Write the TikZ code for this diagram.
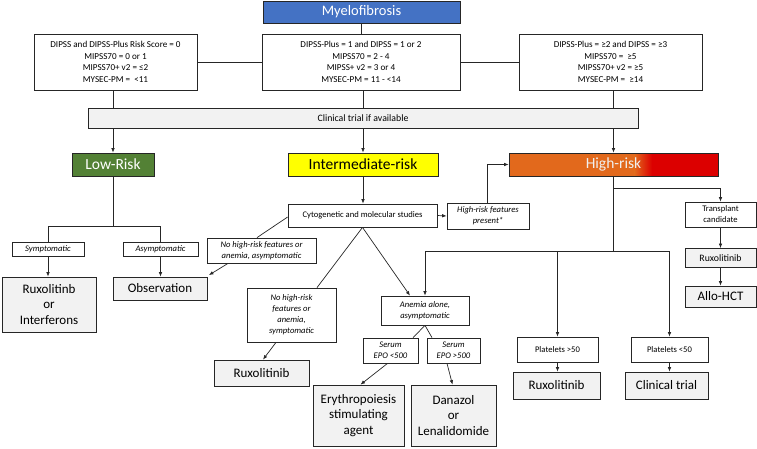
\documentclass[tikz,border=0pt]{standalone}
\usepackage{fontspec}
\setmainfont{Carlito}
\usetikzlibrary{arrows.meta,calc}
\definecolor{mfblue}{HTML}{4472C4}
\definecolor{lowgreen}{HTML}{538135}
\definecolor{midyellow}{HTML}{FFFF00}
\definecolor{hiorange}{HTML}{E2691C}
\definecolor{hired}{HTML}{DC0000}
\definecolor{boxgray}{HTML}{F2F2F2}
\definecolor{edge}{HTML}{262626}
\begin{document}
\begin{tikzpicture}[x=1pt,y=-1pt,
  box/.style={draw=edge, line width=0.8pt, inner sep=0pt, align=center},
  crit/.style={box, fill=white, font=\fontsize{9.1}{11.6}\selectfont},
  lab/.style={box, fill=white, font=\fontsize{8.6}{11}\selectfont},
  ilab/.style={box, fill=white, font=\fontsize{8.6}{11}\selectfont\itshape},
  res/.style={box, fill=boxgray, font=\fontsize{13}{15.5}\selectfont},
  sres/.style={box, fill=boxgray, font=\fontsize{9.8}{12}\selectfont},
  risk/.style={box, font=\fontsize{15.5}{18}\selectfont},
  ln/.style={draw=edge, line width=0.7pt},
  arr/.style={ln, -{Latex[length=4.5pt,width=3.6pt]}}]
\useasboundingbox (0,0) rectangle (757,448);
% title
\node[box, fill=mfblue, text=white, font=\fontsize{14.5}{17}\selectfont, minimum width=197pt, minimum height=22pt] (MF) at (361.5,12) {Myelofibrosis};
% criteria boxes
\node[crit, minimum width=163pt, minimum height=56pt] (L1) at (115.5,62) {DIPSS and DIPSS-Plus Risk Score = 0\\MIPSS70 = 0 or 1\\MIPSS70+ v2 = ≤2\\MYSEC-PM = \ <11};
\node[crit, minimum width=198pt, minimum height=56pt] (M1) at (361,62) {DIPSS-Plus = 1 and DIPSS = 1 or 2\\MIPSS70 = 2 - 4\\MIPSS+ v2 = 3 or 4\\MYSEC-PM = 11 - <14};
\node[crit, minimum width=183pt, minimum height=56pt] (R1) at (610.5,62) {DIPSS-Plus = ≥2 and DIPSS = ≥3\\MIPSS70 = \ ≥5\\MIPSS70+ v2 = ≥5\\MYSEC-PM = \ ≥14};
% clinical trial bar
\node[box, fill=boxgray, font=\fontsize{9.8}{12}\selectfont, minimum width=550pt, minimum height=20pt] (CT) at (363,118) {Clinical trial if available};
% risk boxes
\node[risk, fill=lowgreen, text=white, minimum width=82pt, minimum height=23pt] (LOW) at (113,164.5) {Low-Risk};
\node[risk, fill=midyellow, text=black, minimum width=150pt, minimum height=23pt] (MID) at (363,164.5) {Intermediate-risk};
\fill[hiorange] (509,153) rectangle (635,176);
\shade[left color=hiorange, right color=hired] (634.5,153) rectangle (652,176);
\fill[hired] (651.5,153) rectangle (718,176);
\node[risk, text=white!94!black, minimum width=209pt, minimum height=23pt] (HIGH) at (613.5,164.5) {High-risk};
% low-risk branch
\node[ilab, minimum width=72pt, minimum height=14pt] (SYM) at (48,249) {Symptomatic};
\node[ilab, minimum width=75pt, minimum height=14pt] (ASYM) at (160.5,249) {Asymptomatic};
\node[res, minimum width=94pt, minimum height=55pt] (RUXINT) at (49,304.5) {Ruxolitinb\\or\\Interferons};
\node[res, minimum width=94pt, minimum height=23pt] (OBS) at (160,288.5) {Observation};
% intermediate branch
\node[lab, minimum width=149pt, minimum height=23pt] (CYTO) at (362.5,215.5) {Cytogenetic and molecular studies};
\node[ilab, minimum width=82pt, minimum height=26pt] (HRF) at (488,216) {High-risk features\\present*};
\node[ilab, minimum width=109pt, minimum height=25pt] (NOA) at (261.5,250.5) {No high-risk features or\\anemia, asymptomatic};
\node[ilab, minimum width=89pt, minimum height=54pt] (NOS) at (291.5,315) {No high-risk\\features or\\anemia,\\symptomatic};
\node[ilab, minimum width=88pt, minimum height=29pt] (ANE) at (425,310.5) {Anemia alone,\\asymptomatic};
\node[ilab, minimum width=55pt, minimum height=25pt] (EPOL) at (390.5,350.5) {Serum\\EPO <500};
\node[ilab, minimum width=53pt, minimum height=25pt] (EPOH) at (453.5,350.5) {Serum\\EPO >500};
\node[res, minimum width=95pt, minimum height=26pt] (RUXM) at (261.5,373) {Ruxolitinib};
\node[res, minimum width=91pt, minimum height=61pt] (ERY) at (358.5,415.5) {Erythropoiesis\\stimulating\\agent};
\node[res, minimum width=85pt, minimum height=61pt] (DAN) at (453.5,415.5) {Danazol\\or\\Lenalidomide};
% high-risk branch
\node[lab, minimum width=81pt, minimum height=25pt] (P1) at (557.5,349.5) {Platelets >50};
\node[lab, minimum width=77pt, minimum height=25pt] (P2) at (669.5,349.5) {Platelets <50};
\node[res, minimum width=87pt, minimum height=27pt] (RUXB) at (556.5,385.5) {Ruxolitinib};
\node[res, minimum width=83pt, minimum height=27pt] (CTB) at (666.5,385.5) {Clinical trial};
\node[lab, minimum width=71pt, minimum height=25pt] (TC) at (720.5,214.5) {Transplant\\candidate};
\node[sres, minimum width=71pt, minimum height=19pt] (RUXR) at (720.5,258) {Ruxolitinib};
\node[res, minimum width=71pt, minimum height=21pt] (ALLO) at (720.5,296.5) {Allo-HCT};
% connectors: top
\draw[ln] (MF.south) -- (M1.north -| MF.south);
\draw[ln] (L1.east) -- (M1.west);
\draw[ln] (M1.east) -- (R1.west);
\draw[ln] (L1.south -| LOW.north) -- (CT.north -| LOW.north);
\draw[ln] (M1.south -| MID.north) -- (CT.north -| MID.north);
\draw[ln] (R1.south -| HIGH.north) -- (CT.north -| HIGH.north);
\draw[arr] (CT.south -| LOW.north) -- (LOW.north);
\draw[arr] (CT.south -| MID.north) -- (MID.north);
\draw[arr] (CT.south -| HIGH.north) -- (HIGH.north);
% low-risk
\coordinate (lowj) at ($(LOW.south)+(0,50)$);
\draw[ln] (LOW.south) -- (lowj);
\draw[ln] (SYM.north |- lowj) -- (ASYM.north |- lowj);
\draw[ln] (SYM.north |- lowj) -- (SYM.north);
\draw[ln] (ASYM.north |- lowj) -- (ASYM.north);
\draw[arr] (SYM.south) -- (SYM.south |- RUXINT.north);
\draw[arr] (ASYM.south) -- (ASYM.south |- OBS.north);
% intermediate
\draw[arr] (MID.south) -- (MID.south |- CYTO.north);
\draw[arr] (CYTO.east) -- (HRF.west);
\draw[arr] ([xshift=-1pt]HRF.north) |- (HIGH.west);
\draw[ln] ([yshift=-1.5pt]CYTO.west) -- ([xshift=-4.5pt]NOA.north);
\draw[arr] ([xshift=-33.5pt]NOA.south) -- ([xshift=1.5pt,yshift=1.5pt]OBS.north east);
\draw[ln] (CYTO.south) -- ([xshift=25.5pt]NOS.north);
\draw[arr] (CYTO.south) -- ([xshift=-15pt]ANE.north);
\draw[arr] ([xshift=-15.5pt]NOS.south) -- ([xshift=1.5pt]RUXM.north);
\draw[ln] (ANE.south) -- ([xshift=22.5pt]EPOL.north);
\draw[ln] (ANE.south) -- ([xshift=-21.5pt]EPOH.north);
\draw[arr] ([xshift=-3pt]EPOL.south) -- ([xshift=2pt]ERY.north);
\draw[arr] ([xshift=-6.5pt]EPOH.south) -- ([xshift=-1pt]DAN.north);
% high-risk
\coordinate (hij) at ($(HIGH.south)+(0,75)$);
\coordinate (tcj) at ($(HIGH.south)+(0,12)$);
\draw[ln] (HIGH.south) -- (hij);
\draw[ln] (hij -| ANE.north) -- (hij -| P2.north);
\draw[arr] (hij -| ANE.north) -- (ANE.north);
\draw[arr] (hij -| P1.north) -- (P1.north);
\draw[arr] (hij -| P2.north) -- (P2.north);
\draw[arr] (tcj) -| (TC.north);
\draw[arr] (TC.south) -- (RUXR.north);
\draw[arr] (RUXR.south) -- (ALLO.north);
\draw[arr] (P1.south) -- (P1.south |- RUXB.north);
\draw[arr] (P2.south) -- (P2.south |- CTB.north);
\end{tikzpicture}
\end{document}
